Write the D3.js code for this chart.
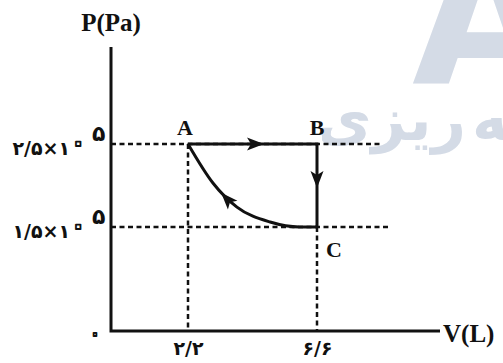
<!DOCTYPE html>
<html>
<head>
<meta charset="utf-8">
<script src="https://cdn.jsdelivr.net/npm/d3@7/dist/d3.min.js"></script>
<style>
  body { margin: 0; background: #fff; }
</style>
</head>
<body>
<div id="chart"></div>
<script>
// states of the gas, V in L, P in 10^5 Pa
var stateNames = ["A", "B", "C"];
var stateV = [2.2, 6.6, 6.6];
var stateP = [2.5, 2.5, 1.5];

// tick values and their persian labels
var vTicks = [2.2, 6.6];
var vTickLabels = ["۲/۲", "۶/۶"];
var pTicks = [2.5, 1.5];
var pTickLabels = ["۲/۵×۱۰", "۱/۵×۱۰"];
var pTickExp = ["۵", "۵"];

// the curved C -> A process
var curveV = [2.2, 3.05, 3.87, 5.0, 6.0, 6.6];
var curveP = [2.5, 2.03, 1.74, 1.56, 1.5, 1.5];

var width = 503, height = 363;
var ink = "#111";
var mark = "#d4dbe6";
var faFont = "'DejaVu Sans', sans-serif";
var serif = "'Liberation Serif', 'Times New Roman', serif";

var svg = d3.select("#chart").append("svg")
    .attr("width", width)
    .attr("height", height)
    .style("display", "block");

// the figure is not drawn to scale, so each axis is a piecewise linear scale
var x = d3.scaleLinear().domain([0, 2.2, 6.6]).range([111, 188, 317]);
var y = d3.scaleLinear().domain([0, 1.5, 2.5]).range([331, 227, 144]);

// watermark behind everything
var wm = svg.append("g");
wm.append("text")
    .attr("x", 412).attr("y", 83)
    .style("font-family", faFont)
    .style("font-weight", "bold")
    .style("font-size", "190px")
    .style("fill", mark)
    .text("A");
svg.append("clipPath").attr("id", "wmclip")
    .append("rect").attr("x", 322).attr("y", 84).attr("width", 185).attr("height", 80);
var wmText = wm.append("g").attr("clip-path", "url(#wmclip)")
    .style("font-family", faFont)
    .style("font-weight", "bold")
    .style("font-size", "60px")
    .style("fill", mark);
var w1 = wmText.append("text").attr("y", 140).text("برنامه");
var w2 = wmText.append("text").attr("y", 140).text("ریزی آکادمی");
var b1 = w1.node().getBBox(), b2 = w2.node().getBBox();
w1.attr("x", 472 - b1.x);
w2.attr("x", 466 - (b2.x + b2.width));

// guide lines
var dash = svg.append("g")
    .attr("stroke", ink)
    .attr("stroke-width", 2.5)
    .attr("stroke-dasharray", "5,3.5")
    .attr("fill", "none");
var hEnds = [383, 388];
dash.selectAll("line.h").data(pTicks).enter().append("line")
    .attr("class", "h")
    .attr("x1", x(0)).attr("x2", function (d, i) { return hEnds[i]; })
    .attr("y1", function (d) { return y(d); }).attr("y2", function (d) { return y(d); });
var vTops = [2.5, 1.5];
dash.selectAll("line.v").data(vTicks).enter().append("line")
    .attr("class", "v")
    .attr("x1", function (d) { return x(d); }).attr("x2", function (d) { return x(d); })
    .attr("y1", function (d, i) { return y(vTops[i]); }).attr("y2", y(0));

// axes
svg.append("path")
    .attr("d", "M" + x(0) + "," + 47 + "V" + y(0) + "H" + 440)
    .attr("fill", "none")
    .attr("stroke", ink)
    .attr("stroke-width", 3);

var xAxis = svg.append("g")
    .attr("transform", "translate(0," + y(0) + ")")
    .call(d3.axisBottom(x).tickValues(vTicks)
        .tickFormat(function (d, i) { return vTickLabels[i]; })
        .tickSize(0).tickPadding(6));
xAxis.select(".domain").remove();
xAxis.selectAll("text")
    .attr("dy", null).attr("y", 24)
    .style("font-family", faFont)
    .style("font-weight", "bold")
    .style("font-size", "19px")
    .style("fill", ink);

// persian zero is drawn as a small ring in the picture
function ringZero(t) {
    t.style("font-size", "26px").style("fill", "#fff")
        .style("stroke", ink).style("stroke-width", 1.8)
        .style("stroke-linejoin", "round");
}

svg.append("g").selectAll("text").data(pTicks).enter().append("text")
    .attr("x", 86)
    .attr("y", function (d) { return y(d) + 11; })
    .attr("text-anchor", "end")
    .style("font-family", faFont)
    .style("font-weight", "bold")
    .style("font-size", "19px")
    .style("fill", ink)
    .each(function (d, i) {
        var s = pTickLabels[i], k = s.indexOf("۰");
        var t = d3.select(this);
        t.append("tspan").text(s.slice(0, k));
        ringZero(t.append("tspan").attr("dy", -4).text(s.slice(k)));
    });
svg.append("g").selectAll("text").data(pTicks).enter().append("text")
    .attr("x", 92)
    .attr("y", function (d) { return y(d) - 3; })
    .style("font-family", faFont)
    .style("font-weight", "bold")
    .style("font-size", "22px")
    .style("fill", ink)
    .text(function (d, i) { return pTickExp[i]; });

var origin = svg.append("text")
    .attr("x", 95).attr("y", 342)
    .attr("text-anchor", "middle")
    .style("font-family", faFont)
    .text("۰");
ringZero(origin);

// axis titles
svg.append("text")
    .attr("x", 111).attr("y", 31)
    .attr("text-anchor", "middle")
    .style("font-family", serif).style("font-weight", "bold").style("font-size", "25px")
    .style("fill", ink)
    .text("P(Pa)");
svg.append("text")
    .attr("x", 443).attr("y", 342)
    .style("font-family", serif).style("font-weight", "bold").style("font-size", "25px")
    .style("fill", ink)
    .text("V(L)");

// the cycle A -> B -> C and back to A along the curve
var straight = svg.append("path")
    .attr("d", d3.line()([0, 1, 2].map(function (i) { return [x(stateV[i]), y(stateP[i])]; })))
    .attr("fill", "none")
    .attr("stroke", ink)
    .attr("stroke-width", 3);

var curvePts = curveV.map(function (v, i) { return [x(v), y(curveP[i])]; });
var curve = svg.append("path")
    .attr("d", d3.line().curve(d3.curveMonotoneX)(curvePts))
    .attr("fill", "none")
    .attr("stroke", ink)
    .attr("stroke-width", 3);

// arrow heads placed along the paths
function arrowAt(pathNode, len, reverse) {
    var p = pathNode.getPointAtLength(len);
    var q = pathNode.getPointAtLength(reverse ? len - 1 : len + 1);
    var ang = Math.atan2(q.y - p.y, q.x - p.x) * 180 / Math.PI;
    svg.append("path")
        .attr("d", "M0,0L-17,-6.5L-13,0L-17,6.5Z")
        .attr("transform", "translate(" + p.x + "," + p.y + ") rotate(" + ang + ")")
        .attr("fill", ink);
}
var abLen = x(stateV[1]) - x(stateV[0]);
arrowAt(straight.node(), 76, false);
arrowAt(straight.node(), abLen + 44, false);
arrowAt(curve.node(), 59, true);

// state labels
var labelDx = [-3, 0, 17];
var labelDy = [-9, -9, 30];
svg.append("g").selectAll("text").data(stateNames).enter().append("text")
    .attr("x", function (d, i) { return x(stateV[i]) + labelDx[i]; })
    .attr("y", function (d, i) { return y(stateP[i]) + labelDy[i]; })
    .attr("text-anchor", "middle")
    .style("font-family", serif).style("font-weight", "bold").style("font-size", "22px")
    .style("fill", ink)
    .text(function (d) { return d; });
</script>
</body>
</html>
